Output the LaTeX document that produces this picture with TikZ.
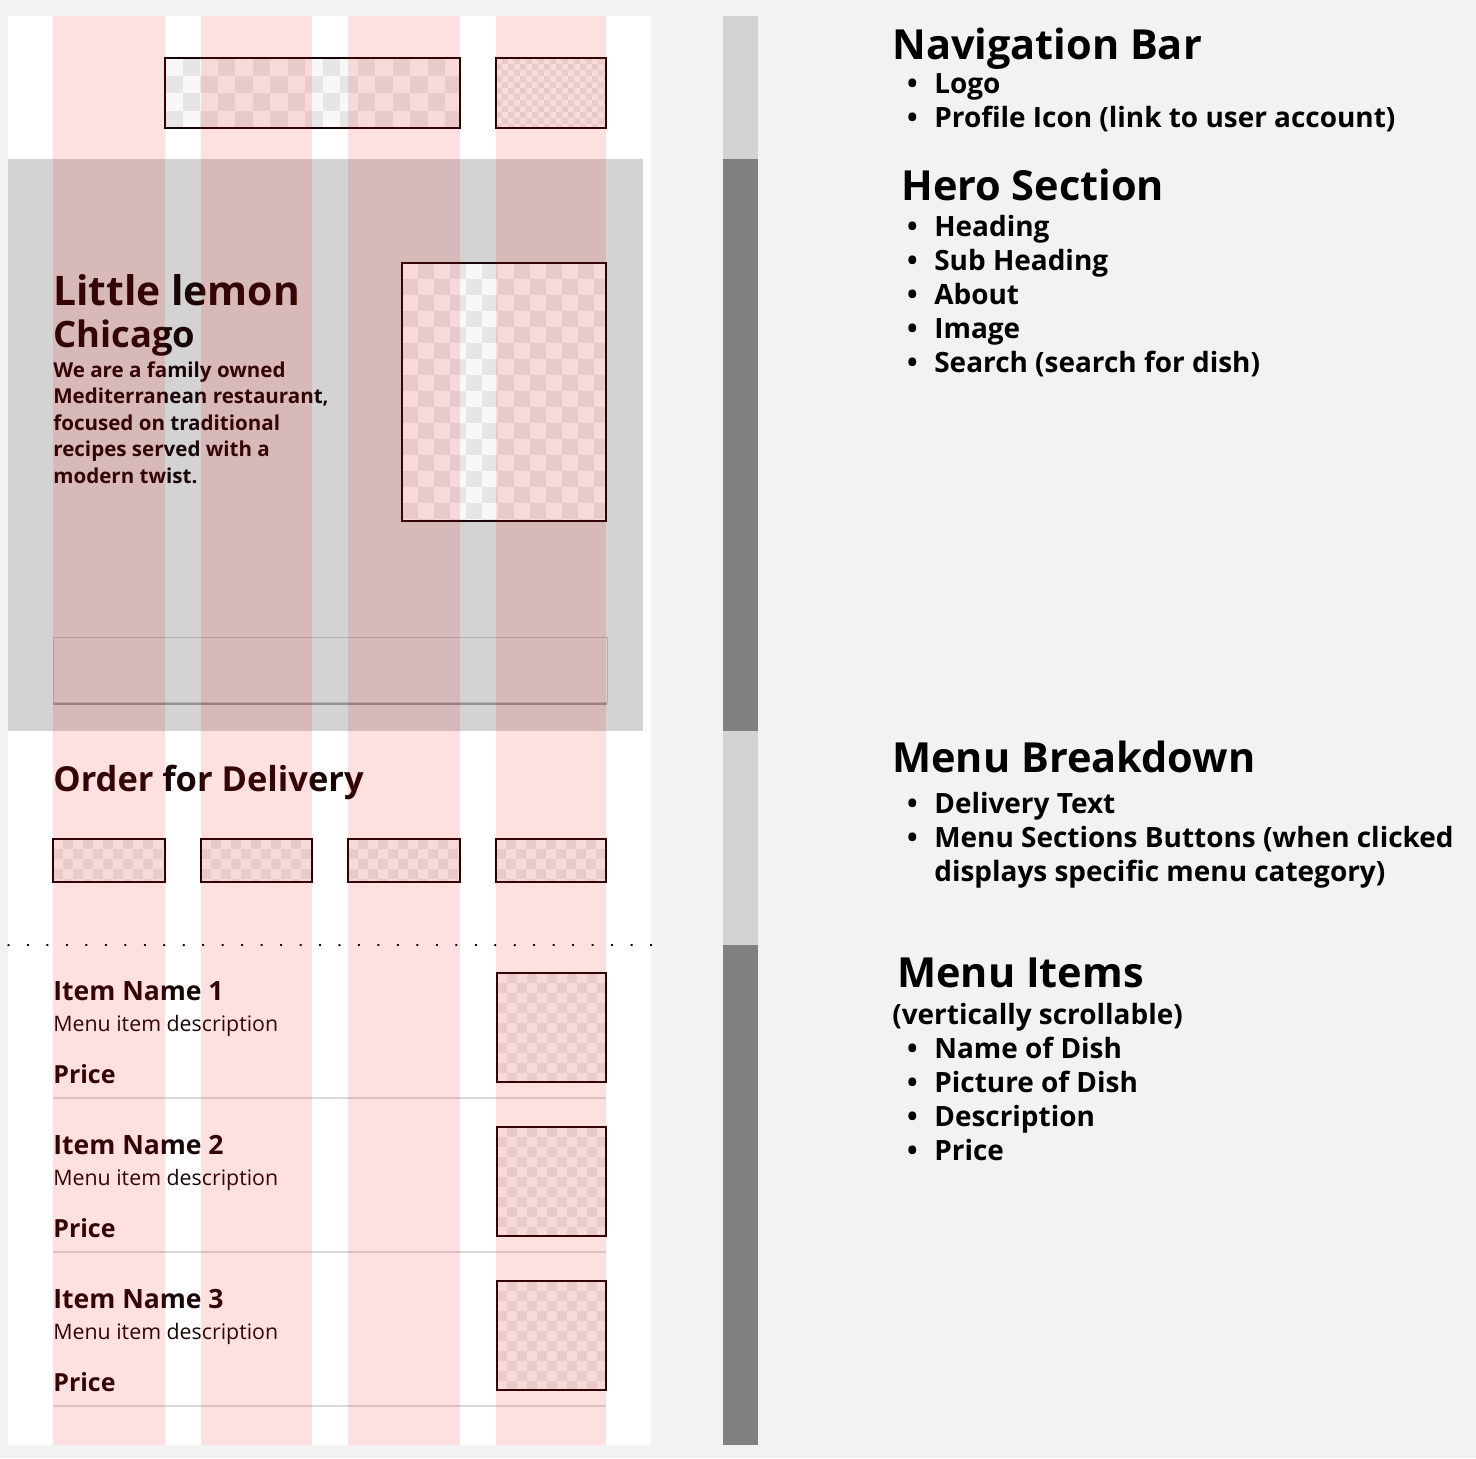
\documentclass[tikz,border=0pt]{standalone}
\usepackage{fontspec}
\setmainfont{Open Sans}
\usetikzlibrary{shadows,positioning}

\definecolor{pagebg}{HTML}{F2F2F2}
\definecolor{herogray}{HTML}{D3D3D3}
\definecolor{bardark}{HTML}{808080}
\definecolor{ink}{HTML}{1A0505}
\definecolor{chklight}{HTML}{F8F8F8}
\definecolor{chkdark}{HTML}{E6E6E6}
\definecolor{rulegray}{HTML}{DADADA}

% checkerboard placeholder: x0 y0 x1 y1 square
\newcommand\checker[5]{%
  \begin{scope}
    \clip (#1,#2) rectangle (#3,#4);
    \fill[chklight] (#1,#2) rectangle (#3,#4);
    \pgfmathtruncatemacro\chknx{(#3-#1)/#5}
    \pgfmathtruncatemacro\chkny{(#4-#2)/#5}
    \foreach \i in {0,...,\chknx}
      \foreach \j in {0,...,\chkny}{
        \pgfmathtruncatemacro\chkodd{mod(\i+\j,2)}
        \ifnum\chkodd=1
          \fill[chkdark] ({#1+\i*#5},{#2+\j*#5}) rectangle ++(#5,#5);
        \fi}
  \end{scope}
  \draw[imgbox] (#1,#2) rectangle (#3,#4);}
\newcommand\bull{\makebox[0pt][r]{•\hspace{9.5pt}}}

\begin{document}
\begin{tikzpicture}[
    x=0.02cm, y=-0.02cm,
    imgbox/.style={draw=ink, line width=1.1pt},
    col/.style={fill=red, opacity=0.12},
    txt/.style={anchor=base west, inner sep=0pt, text=ink},
    sechead/.style={anchor=base west, inner sep=0pt,
                    font=\fontsize{23.6}{28}\selectfont\bfseries},
    bul/.style={anchor=base west, inner sep=0pt,
                font=\fontsize{15.9}{18}\selectfont\bfseries},
    searchbar/.style={fill=herogray, draw=black!30, line width=0.4pt,
                      drop shadow={shadow xshift=0pt, shadow yshift=-1.6pt,
                                   opacity=0.3, fill=black}}
]
\useasboundingbox (0,0) rectangle (1476,1458);
\fill[pagebg] (0,0) rectangle (1476,1458);

%---- PHONE FRAME -------------------------------------
\fill[white] (8,16) rectangle (651,1445);
\fill[herogray] (8,159) rectangle (643,731);

%---- NAV BAR -----------------------------------------
\checker{165}{58}{460}{128}{17.5}
\checker{496}{58}{606}{128}{6}

%---- HERO --------------------------------------------
\node (title) [txt, font=\fontsize{23.2}{28}\selectfont\bfseries] at (53,305) {Little lemon};
\node (city)  [txt, font=\fontsize{20.7}{24}\selectfont\bfseries] at (53,347) {Chicago};
\foreach \t [count=\k] in {We are a family owned, {Mediterranean restaurant,},
    focused on traditional, recipes served with a, modern twist.}
  \node (about\k) [txt, font=\fontsize{11.7}{15}\selectfont\bfseries]
    at (53,{377+26.6*(\k-1)}) {\t};
\checker{402}{263}{606}{521}{16}
\path[searchbar] (53,637) rectangle (607,702);

%---- ORDER FOR DELIVERY ------------------------------
\node (order) [txt, font=\fontsize{19.6}{24}\selectfont\bfseries] at (53,791) {Order for Delivery};
\foreach \a/\b in {53/165, 201/312, 348/460, 496/606}
  \checker{\a}{839}{\b}{882}{10}
\foreach \k in {0,...,33}
  \fill[black] ({8.5+19.47*\k},945) circle (1);

%---- MENU ITEMS --------------------------------------
\foreach \k in {1,2,3}{
  \pgfmathsetmacro\yy{154*(\k-1)}
  \node (item\k)  [txt, font=\fontsize{15.1}{18}\selectfont\bfseries] at (53,{1000+\yy}) {Item Name \k};
  \node (desc\k)  [txt, font=\fontsize{12.15}{14}\selectfont] at (53,{1031+\yy}) {Menu item description};
  \node (price\k) [txt, font=\fontsize{14.2}{16}\selectfont\bfseries] at (53,{1083+\yy}) {Price};
  \draw[rulegray, line width=1pt] (53,{1098+\yy}) -- (606,{1098+\yy});
  \checker{497}{973+\yy}{606}{1082+\yy}{10}
}

%---- GRID COLUMNS ------------------------------------
\foreach \a/\b in {53/165, 201/312, 348/460, 496/606}
  \fill[col] (\a,16) rectangle (\b,1445);

%---- SECTION BAR -------------------------------------
\fill[herogray] (723,16)  rectangle (758,159);
\fill[bardark]  (723,159) rectangle (758,731);
\fill[herogray] (723,731) rectangle (758,945);
\fill[bardark]  (723,945) rectangle (758,1445);

%---- NOTES -------------------------------------------
\node (navhead) [sechead] at (892,59) {Navigation Bar};
\foreach \t [count=\k] in {Logo, Profile Icon (link to user account)}
  \node (nav\k) [bul] at (934,{59+34*\k}) {\bull\t};

\node (herohead) [sechead] at (901,200) {Hero Section};
\foreach \t [count=\k] in {Heading, Sub Heading, About, Image, Search (search for dish)}
  \node (hero\k) [bul] at (934,{202+34*\k}) {\bull\t};

\node (menuhead) [sechead] at (892,772) {Menu Breakdown};
\node (menu1) [bul] at (934,813) {\bull Delivery Text};
\node (menu2) [bul] at (934,847) {\bull Menu Sections Buttons (when clicked};
\node (menu3) [bul] at (934,881) {displays specific menu category)};

\node (itemhead) [sechead] at (897,987) {Menu Items};
\node (scroll) [bul] at (892,1024) {(vertically scrollable)};
\foreach \t [count=\k] in {Name of Dish, Picture of Dish, Description, Price}
  \node (dish\k) [bul] at (934,{1024+34*\k}) {\bull\t};
\end{tikzpicture}
\end{document}
